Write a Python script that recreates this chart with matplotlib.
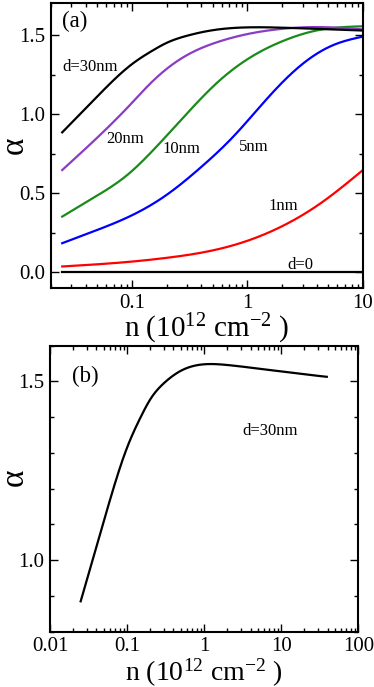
import matplotlib
matplotlib.use("Agg")
import matplotlib.pyplot as plt
import numpy as np
from matplotlib.ticker import LogLocator, MultipleLocator, FixedLocator, NullFormatter, FixedFormatter, FormatStrFormatter

plt.rcParams['font.family'] = ['Liberation Serif', 'DejaVu Serif']
plt.rcParams['mathtext.fontset'] = 'custom'
plt.rcParams['mathtext.rm'] = 'Liberation Serif'
plt.rcParams['mathtext.it'] = 'Liberation Serif:italic'

# ---- data (a) ----
n30 = [0.025, 0.05, 0.1, 0.15, 0.2, 0.3, 0.5, 1.0, 2.0, 5.0, 10.0]
a30 = [0.885, 1.11, 1.315, 1.40, 1.45, 1.495, 1.53, 1.548, 1.546, 1.536, 1.528]

n20 = [0.025, 0.05, 0.1, 0.143, 0.28, 0.55, 1.07, 2.08, 4.0, 10.0]
a20 = [0.647, 0.85, 1.07, 1.19, 1.36, 1.455, 1.51, 1.54, 1.55, 1.535]

n10 = [0.025, 0.046, 0.095, 0.143, 0.28, 0.55, 1.07, 2.08, 4.07, 10.0]
a10 = [0.353, 0.469, 0.626, 0.75, 0.98, 1.20, 1.36, 1.465, 1.53, 1.555]

n5 = [0.025, 0.046, 0.095, 0.2, 0.39, 0.76, 1.49, 2.92, 5.7, 10.0]
a5 = [0.185, 0.258, 0.353, 0.49, 0.66, 0.86, 1.10, 1.31, 1.44, 1.49]

n1 = [0.025, 0.078, 0.213, 0.58, 1.14, 2.23, 4.36, 10.0]
a1 = [0.038, 0.062, 0.095, 0.150, 0.215, 0.31, 0.44, 0.647]

n0 = [0.025, 10.0]
a0 = [0.0, 0.0]

# ---- data (b) ----
nb = [0.025, 0.05, 0.1, 0.15, 0.2, 0.3, 0.5, 1.0, 2.0, 5.0, 10.0, 20.0, 39.0]
ab = [0.885, 1.11, 1.315, 1.40, 1.45, 1.495, 1.53, 1.548, 1.546, 1.536, 1.528, 1.52, 1.513]


def smooth(n, a, num=400):
    """Natural cubic spline through the points in log10(n)."""
    x = np.log10(np.asarray(n, float))
    y = np.asarray(a, float)
    k = len(x)
    h = np.diff(x)
    A = np.zeros((k, k)); r = np.zeros(k)
    A[0, 0] = 1; A[-1, -1] = 1
    for i in range(1, k - 1):
        A[i, i - 1] = h[i - 1]
        A[i, i] = 2 * (h[i - 1] + h[i])
        A[i, i + 1] = h[i]
        r[i] = 6 * ((y[i + 1] - y[i]) / h[i] - (y[i] - y[i - 1]) / h[i - 1])
    M = np.linalg.solve(A, r)
    xs = np.linspace(x[0], x[-1], num)
    idx = np.clip(np.searchsorted(x, xs, side='right') - 1, 0, k - 2)
    x0 = x[idx]; x1 = x[idx + 1]; hh = x1 - x0
    ys = (M[idx] * (x1 - xs) ** 3 / (6 * hh) + M[idx + 1] * (xs - x0) ** 3 / (6 * hh)
          + (y[idx] / hh - M[idx] * hh / 6) * (x1 - xs)
          + (y[idx + 1] / hh - M[idx + 1] * hh / 6) * (xs - x0))
    return 10 ** xs, ys


fig = plt.figure(figsize=(3.74, 6.87), dpi=100)
axA = fig.add_axes([0.1364, 0.5803, 0.834, 0.4149])
axB = fig.add_axes([0.1337, 0.0805, 0.8243, 0.4163])

lw = 1.6
for n, a, c in [(n1, a1, '#ff0000'), (n5, a5, '#0000ff'), (n10, a10, '#1a8a1a'),
                (n20, a20, '#8a3dc4'), (n30, a30, '#000000')]:
    x, y = smooth(n, a)
    axA.plot(x, y, color=c, lw=lw)
axA.plot(n0, a0, color='black', lw=lw)

axA.set_xscale('log')
axA.set_xlim(0.02, 10)
axA.set_ylim(-0.1, 1.7)
axA.xaxis.set_major_locator(FixedLocator([0.1, 1, 10]))
axA.xaxis.set_major_formatter(FixedFormatter(['0.1', '1', '10']))
axA.xaxis.set_minor_locator(LogLocator(base=10, subs=np.arange(2, 10)))
axA.xaxis.set_minor_formatter(NullFormatter())
axA.yaxis.set_major_locator(MultipleLocator(0.5))
axA.yaxis.set_minor_locator(MultipleLocator(0.25))
axA.yaxis.set_major_formatter(FormatStrFormatter('%.1f'))

x, y = smooth(nb, ab)
axB.plot(x, y, color='black', lw=lw)
axB.set_xscale('log')
axB.set_xlim(0.01, 100)
axB.set_ylim(0.8, 1.6)
axB.xaxis.set_major_locator(FixedLocator([0.01, 0.1, 1, 10, 100]))
axB.xaxis.set_major_formatter(FixedFormatter(['0.01', '0.1', '1', '10', '100']))
axB.xaxis.set_minor_locator(LogLocator(base=10, subs=np.arange(2, 10)))
axB.xaxis.set_minor_formatter(NullFormatter())
axB.yaxis.set_major_locator(MultipleLocator(0.5))
axB.yaxis.set_minor_locator(MultipleLocator(0.1))
axB.yaxis.set_major_formatter(FormatStrFormatter('%.1f'))

xlabel = r'n (10$^{12}$ cm$^{\mathrm{-2}}$ )'
for ax in (axA, axB):
    for s in ax.spines.values():
        s.set_linewidth(1.5)
    ax.tick_params(which='both', direction='in', top=True, right=True, labelsize=15, width=1.0)
    ax.tick_params(which='major', length=6, pad=4)
    ax.tick_params(which='minor', length=3)

axA.set_xlabel(xlabel, fontsize=21, labelpad=-1)
axB.set_xlabel(xlabel, fontsize=20, labelpad=0)

# y-axis labels placed in figure pixels (left margin)
W, H = 374.0, 687.0
fig.text(14 / W, 1 - 145 / H, 'α', rotation=90, fontsize=24, ha='center', va='center')
fig.text(14 / W, 1 - 477 / H, 'α', rotation=90, fontsize=24, ha='center', va='center')

fs = 12
axA.text(0.035, 0.975, '(a)', transform=axA.transAxes, fontsize=16.5, va='top', ha='left')
axA.text(0.025, 1.296, 'd=30nm', fontsize=fs, ha='left', va='center')
axA.text(0.060, 0.84, '20nm', fontsize=fs, ha='left', va='center')
axA.text(0.186, 0.78, '10nm', fontsize=fs, ha='left', va='center')
axA.text(0.84, 0.79, '5nm', fontsize=fs, ha='left', va='center')
axA.text(1.51, 0.42, '1nm', fontsize=fs, ha='left', va='center')
axA.text(2.24, 0.05, 'd=0', fontsize=fs, ha='left', va='center')

axB.text(0.071, 0.93, '(b)', transform=axB.transAxes, fontsize=16.5, va='top', ha='left')
axB.text(3.1, 1.362, 'd=30nm', fontsize=fs, ha='left', va='center')

fig.savefig('out.png', dpi=100)
